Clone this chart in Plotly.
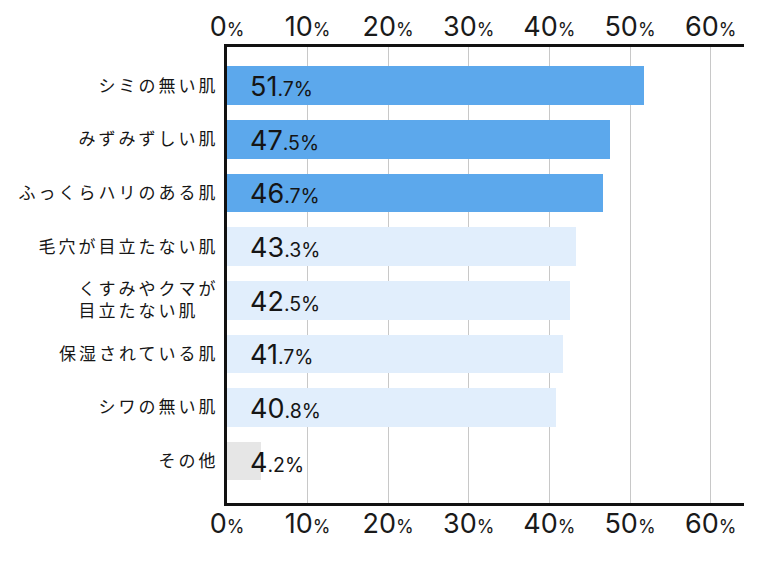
import plotly.graph_objects as go

categories = ["シミの無い肌", "みずみずしい肌", "ふっくらハリのある肌", "毛穴が目立たない肌",
              "くすみやクマが<br>目立たない肌　", "保湿されている肌", "シワの無い肌", "その他"]
values = [51.7, 47.5, 46.7, 43.3, 42.5, 41.7, 40.8, 4.2]
bar_colors = ["#5CA8EC"] * 3 + ["#E1EEFC"] * 4 + ["#E6E6E6"]
tick_values = [0, 10, 20, 30, 40, 50, 60]

NUM_FONT = "Inter, Liberation Sans, Arial, sans-serif"
JP_FONT = "Noto Sans CJK JP, sans-serif"

tick_text = [f"{v}<span style='font-size:18px'>%</span>" for v in tick_values]
cat_text = [f"<span style='letter-spacing:3px'>{c}</span>" for c in categories]
y_ids = list(range(len(categories)))

fig = go.Figure()
fig.add_trace(go.Bar(
    x=values, y=y_ids, orientation="h",
    marker=dict(color=bar_colors, line=dict(width=0)),
    width=0.72, hoverinfo="skip",
))
fig.add_trace(go.Scatter(x=[0], y=[0], xaxis="x2", mode="markers",
                         marker=dict(opacity=0), hoverinfo="skip", showlegend=False))

for i, v in enumerate(values):
    whole, dec = f"{v:.1f}".split(".")
    fig.add_annotation(
        x=0, y=i, xref="x", yref="y", xanchor="left", yanchor="middle",
        xshift=21, yshift=-1, showarrow=False,
        text=f"{whole}<span style='font-size:19.5px'>.{dec}%</span>",
        font=dict(family=NUM_FONT, size=27, color="#151515"),
    )

xrange = [0, 64.14]
axis_common = dict(
    range=xrange, tickmode="array", tickvals=tick_values, ticktext=tick_text,
    showgrid=True, gridcolor="#C8C8C8", gridwidth=1,
    showline=True, linecolor="#111111", linewidth=3,
    zeroline=False, ticks="", automargin=False,
    tickfont=dict(family=NUM_FONT, size=27, color="#1A1A1A"),
    fixedrange=True,
)
fig.update_layout(
    width=778, height=565,
    margin=dict(l=227, r=34, t=47, b=62),
    paper_bgcolor="white", plot_bgcolor="white",
    showlegend=False,
    xaxis=dict(**axis_common, side="bottom", ticklabelstandoff=-5),
    xaxis2=dict(**axis_common, side="top", overlaying="x", anchor="y", ticklabelstandoff=-3),
    yaxis=dict(
        range=[7.78, -0.72], tickmode="array", tickvals=y_ids, ticktext=cat_text,
        showline=True, linecolor="#111111", linewidth=3, showgrid=False,
        zeroline=False, ticks="", ticklabelstandoff=2, automargin=False,
        tickfont=dict(family=JP_FONT, size=17, color="#161616"),
        fixedrange=True,
    ),
    bargap=0,
)
fig.write_html("out.html")
